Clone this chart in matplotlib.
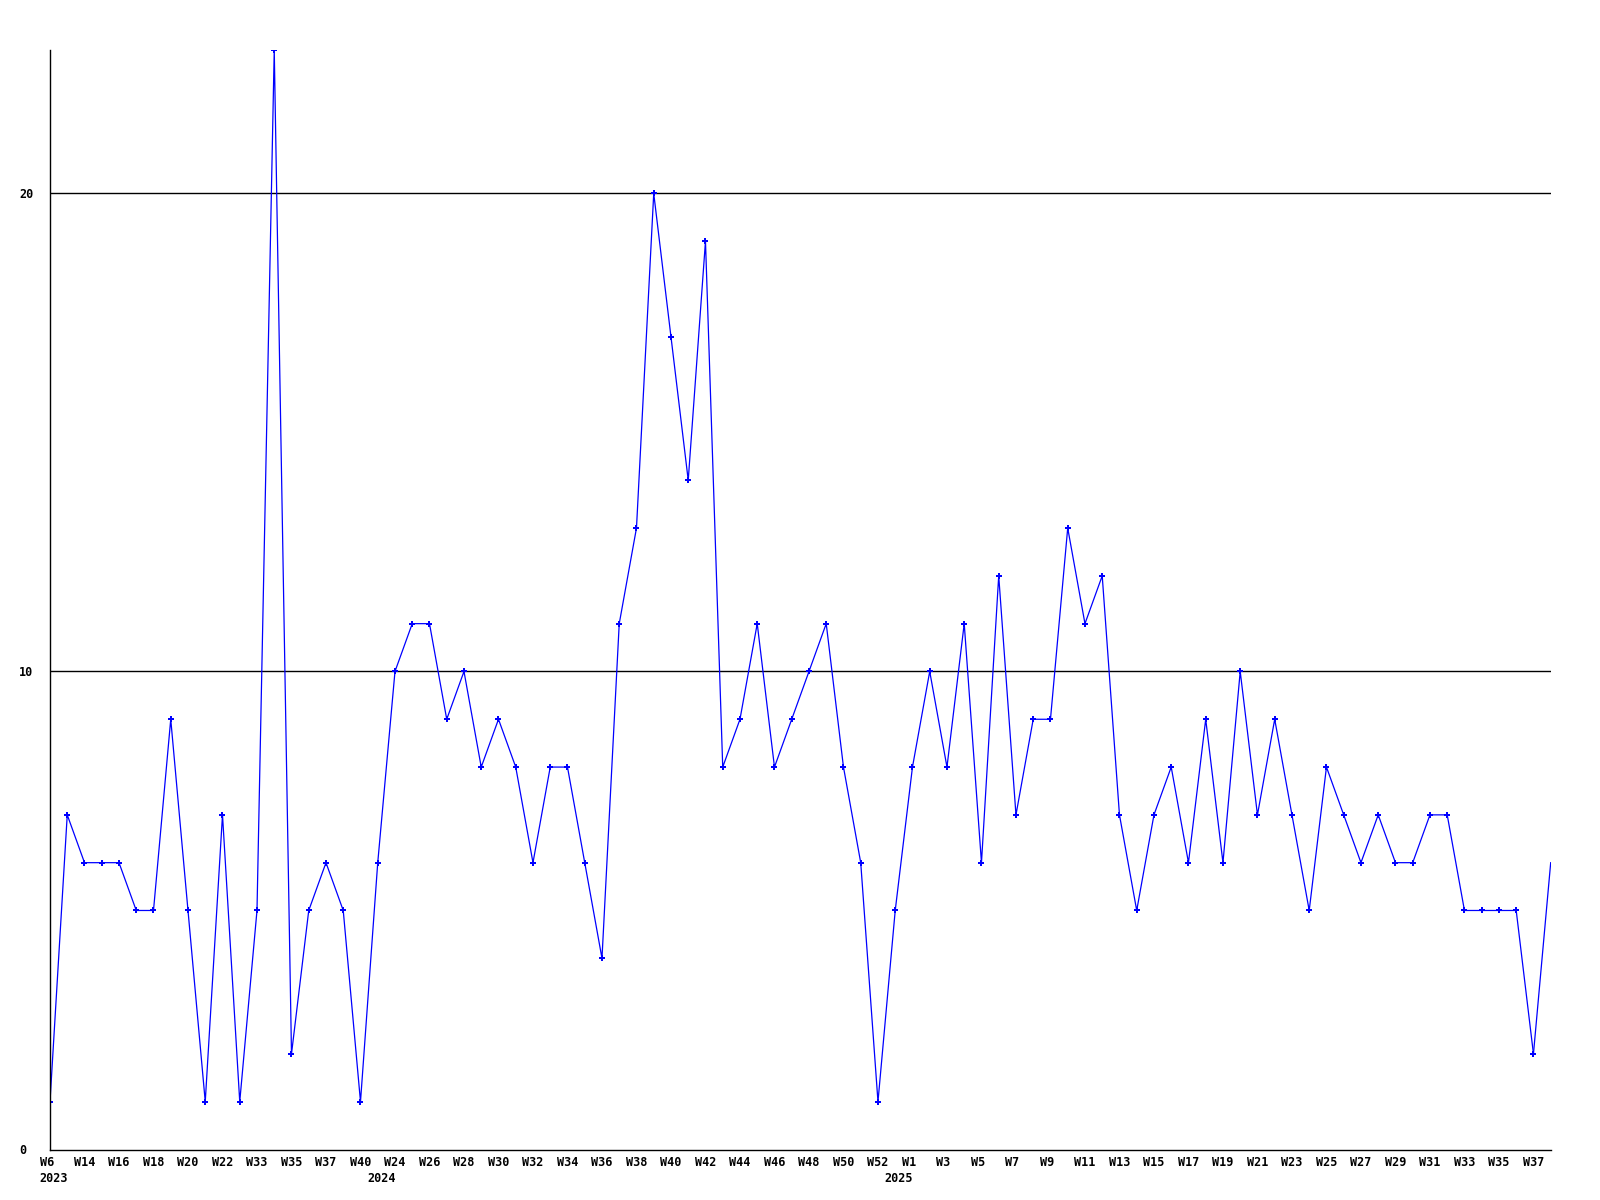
import matplotlib
matplotlib.use("Agg")
import matplotlib.pyplot as plt
from matplotlib.transforms import ScaledTranslation

values = [1, 7, 6, 6, 6, 5, 5, 9, 5, 1,
          7, 1, 5, 23, 2, 5, 6, 5, 1, 6,
          10, 11, 11, 9, 10, 8, 9, 8, 6, 8,
          8, 6, 4, 11, 13, 20, 17, 14, 19, 8,
          9, 11, 8, 9, 10, 11, 8, 6, 1, 5,
          8, 10, 8, 11, 6, 12, 7, 9, 9, 13,
          11, 12, 7, 5, 7, 8, 6, 9, 6, 10,
          7, 9, 7, 5, 8, 7, 6, 7, 6, 6,
          7, 7, 5, 5, 5, 5, 2, 6]

tick_labels = ["W6", "W14", "W16", "W18", "W20", "W22", "W33", "W35", "W37", "W40",
               "W24", "W26", "W28", "W30", "W32", "W34", "W36", "W38", "W40", "W42",
               "W44", "W46", "W48", "W50", "W52", "W1", "W3", "W5", "W7", "W9",
               "W11", "W13", "W15", "W17", "W19", "W21", "W23", "W25", "W27", "W29",
               "W31", "W33", "W35", "W37"]

year_labels = ["2023", "2024", "2025"]
year_positions = [0, 19, 49]

y_ticks = [0, 10, 20]

fig = plt.figure(figsize=(16, 12), dpi=100)
ax = fig.add_axes([50 / 1600, (1200 - 1149.5) / 1200, 1500.7 / 1600, (1149.5 - 50) / 1200])

x = list(range(len(values)))
ax.plot(x[:-1], values[:-1], color="#0000FF", lw=0.9, marker="P", ms=5,
        mew=0, markerfacecolor="#0000FF")
ax.plot(x[-2:], values[-2:], color="#0000FF", lw=0.9)

ax.set_xlim(0, len(values) - 1)
ax.set_ylim(0, 23)

for v in y_ticks[1:]:
    ax.axhline(v, color="black", lw=1.0, zorder=0)

for s in ["top", "right"]:
    ax.spines[s].set_visible(False)
for s in ["left", "bottom"]:
    ax.spines[s].set_color("black")
    ax.spines[s].set_linewidth(1.0)

font = dict(family="DejaVu Sans Mono", weight="bold", size=8.5)

ax.set_yticks(y_ticks)
ax.set_yticklabels([str(v) for v in y_ticks], **font)
ax.tick_params(axis="y", length=0, pad=22.1)
for lab in ax.get_yticklabels():
    lab.set_horizontalalignment("left")

ax.set_xticks(x[::2])
ax.set_xticklabels(tick_labels, **font)
ax.tick_params(axis="x", length=0, pad=5.0)
off = ScaledTranslation(-10.5 / 100, 0, fig.dpi_scale_trans)
for lab in ax.get_xticklabels():
    lab.set_horizontalalignment("left")
    lab.set_transform(lab.get_transform() + off)

yoff = ScaledTranslation(-10.5 / 100, -23 / 100, fig.dpi_scale_trans)
for pos, yr in zip(year_positions, year_labels):
    ax.text(pos, 0, yr, transform=ax.get_xaxis_transform() + yoff,
            ha="left", va="top", **font)

fig.savefig("out.png", dpi=100)
